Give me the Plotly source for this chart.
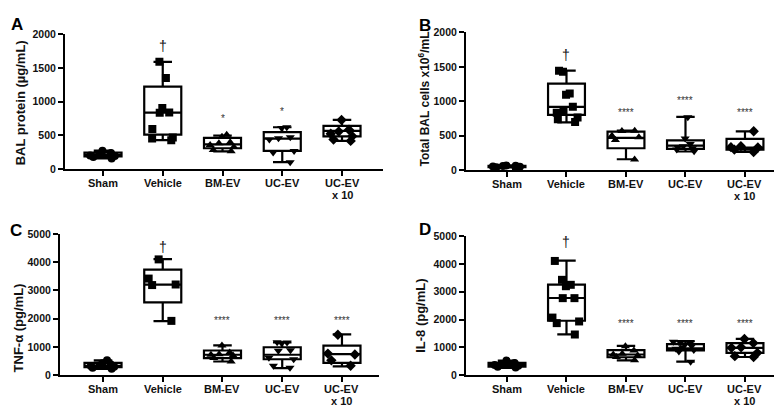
import plotly.graph_objects as go

# ---------------- data ----------------
groups = ["Sham", "Vehicle", "BM-EV", "UC-EV", "UC-EV x 10"]
group_line1 = ["Sham", "Vehicle", "BM-EV", "UC-EV", "UC-EV"]
group_line2 = ["", "", "", "", "x 10"]

# Panel A: BAL protein (ug/mL)
A_sham = [275, 240, 215, 205, 195, 180, 160]
A_vehicle = [1590, 1350, 905, 840, 835, 595, 470, 455, 430]
A_bm = [510, 480, 400, 385, 360, 330, 285, 265]
A_uc = [620, 610, 475, 460, 440, 270, 250, 105]
A_uc10 = [730, 585, 560, 525, 490, 440, 420]
A_q1 = [190, 512, 311, 273, 488]
A_med = [210, 837, 368, 455, 569]
A_q3 = [245, 1222, 464, 550, 641]
A_lo = [160, 430, 265, 105, 420]
A_hi = [275, 1590, 500, 622, 732]
A_sig = ["", "†", "*", "*", ""]
A_sig_y = [0, 1818, 756, 861, 0]

# Panel B: Total BAL cells x10^6/mL
B_sham = [70, 65, 60, 55, 50, 45, 40]
B_vehicle = [1445, 1430, 1115, 1095, 920, 860, 835, 765, 740, 700]
B_bm = [575, 570, 500, 480, 440, 155]
B_uc = [770, 460, 380, 350, 335, 320, 300, 275]
B_uc10 = [565, 350, 335, 330, 300, 265]
B_q1 = [45, 803, 319, 310, 300]
B_med = [55, 920, 470, 357, 330]
B_q3 = [65, 1258, 560, 435, 455]
B_lo = [40, 695, 160, 272, 265]
B_hi = [70, 1446, 577, 775, 565]
B_sig = ["", "†", "****", "****", "****"]
B_sig_y = [0, 1667, 836, 1009, 836]

# Panel C: TNF-alpha (pg/mL)
C_sham = [520, 420, 380, 340, 320, 290, 260, 220]
C_vehicle = [4100, 3420, 3210, 3190, 1920]
C_bm = [1050, 800, 740, 720, 690, 600, 480]
C_uc = [1160, 1150, 1130, 880, 860, 610, 560, 330, 260]
C_uc10 = [1430, 760, 730, 520, 330]
C_q1 = [280, 2574, 600, 560, 430]
C_med = [330, 3203, 720, 720, 740]
C_q3 = [430, 3741, 870, 985, 1040]
C_lo = [220, 1910, 480, 245, 310]
C_hi = [520, 4107, 1050, 1160, 1440]
C_sig = ["", "†", "****", "****", "****"]
C_sig_y = [0, 4542, 1945, 1945, 1945]

# Panel D: IL-8 (pg/mL)
D_sham = [520, 430, 390, 360, 330, 300, 270]
D_vehicle = [4110, 3430, 3250, 3200, 2770, 2770, 2070, 1930, 1870, 1460]
D_bm = [1040, 880, 770, 740, 700, 650, 530]
D_uc = [1200, 1180, 1150, 1100, 1050, 1000, 950, 900, 850, 480]
D_uc10 = [1300, 1150, 1000, 980, 800, 680, 650]
D_q1 = [300, 1955, 640, 890, 800]
D_med = [360, 2775, 740, 960, 980]
D_q3 = [440, 3255, 900, 1110, 1150]
D_lo = [260, 1464, 530, 480, 650]
D_hi = [520, 4122, 1050, 1220, 1300]
D_sig = ["", "†", "****", "****", "****"]
D_sig_y = [0, 4800, 1873, 1873, 1873]

# ---------------- layout helpers ----------------
W, H = 782, 407
def px(x):
    return x / W
def py(y):
    return 1 - y / H

symbols = ["circle", "square", "triangle-up", "triangle-down", "diamond"]
FONT = "Liberation Sans, Arial, sans-serif"

panels = [
    dict(letter="A", title="BAL protein (µg/mL)", tsize=13,
         values=[A_sham, A_vehicle, A_bm, A_uc, A_uc10],
         q1=A_q1, med=A_med, q3=A_q3, lo=A_lo, hi=A_hi, sig=A_sig, sig_y=A_sig_y,
         ymax=2000, dtick=500, xd=(57, 375), yd=(160, 20.7), xr=(-0.636, 4.686),
         letter_pos=(9, 11), title_pos=(12, 92)),
    dict(letter="B", title="Total BAL cells x10<sup>6</sup>/mL", tsize=12,
         values=[B_sham, B_vehicle, B_bm, B_uc, B_uc10],
         q1=B_q1, med=B_med, q3=B_q3, lo=B_lo, hi=B_hi, sig=B_sig, sig_y=B_sig_y,
         ymax=2000, dtick=500, xd=(458, 780), yd=(161, 19), xr=(-0.689, 4.723),
         letter_pos=(417, 12), title_pos=(416, 88)),
    dict(letter="C", title="TNF-α (pg/mL)", tsize=13,
         values=[C_sham, C_vehicle, C_bm, C_uc, C_uc10],
         q1=C_q1, med=C_med, q3=C_q3, lo=C_lo, hi=C_hi, sig=C_sig, sig_y=C_sig_y,
         ymax=5000, dtick=1000, xd=(52, 371), yd=(372, 226.7), xr=(-0.72, 4.62),
         letter_pos=(8, 223), title_pos=(10, 324)),
    dict(letter="D", title="IL-8 (pg/mL)", tsize=13,
         values=[D_sham, D_vehicle, D_bm, D_uc, D_uc10],
         q1=D_q1, med=D_med, q3=D_q3, lo=D_lo, hi=D_hi, sig=D_sig, sig_y=D_sig_y,
         ymax=5000, dtick=1000, xd=(458, 780), yd=(372, 229), xr=(-0.689, 4.723),
         letter_pos=(417, 222), title_pos=(413, 311)),
]

fig = go.Figure()
annotations = []
layout_axes = {}

for pi, p in enumerate(panels):
    n = "" if pi == 0 else str(pi + 1)
    xa, ya = "x" + n, "y" + n
    for gi, g in enumerate(groups):
        fig.add_trace(go.Box(
            x=[g], q1=[p["q1"][gi]], median=[p["med"][gi]], q3=[p["q3"][gi]],
            lowerfence=[p["lo"][gi]], upperfence=[p["hi"][gi]],
            width=0.62, whiskerwidth=0.5, boxpoints=False,
            line=dict(color="black", width=2.2), fillcolor="white",
            xaxis=xa, yaxis=ya, showlegend=False, hoverinfo="skip"))
        vals = p["values"][gi]
        fig.add_trace(go.Box(
            x=[g] * len(vals), y=vals, boxpoints="all", jitter=0.9, pointpos=0,
            marker=dict(symbol=symbols[gi], size=8, color="black"),
            line=dict(color="rgba(0,0,0,0)", width=0), fillcolor="rgba(0,0,0,0)",
            width=0.62, whiskerwidth=0,
            xaxis=xa, yaxis=ya, showlegend=False, hoverinfo="skip"))
        if p["sig"][gi]:
            dag = p["sig"][gi] == "†"
            annotations.append(dict(
                x=g, y=p["sig_y"][gi], xref=xa, yref=ya, text=p["sig"][gi],
                showarrow=False, yanchor="middle",
                font=dict(family=FONT, size=14 if dag else 10,
                          color="#111" if dag else "#333")))
        # category labels (two-line labels drawn as separate lines)
        base = p["yd"][0]
        annotations.append(dict(
            x=g, y=py(base + 14), xref=xa, yref="paper", text="<b>" + group_line1[gi] + "</b>",
            showarrow=False, xanchor="center", yanchor="middle",
            font=dict(family=FONT, size=11, color="#111")))
        if group_line2[gi]:
            annotations.append(dict(
                x=g, y=py(base + 27), xref=xa, yref="paper", text="<b>" + group_line2[gi] + "</b>",
                showarrow=False, xanchor="center", yanchor="middle",
                font=dict(family=FONT, size=11, color="#111")))
    layout_axes["xaxis" + n] = dict(
        domain=[px(p["xd"][0]), px(p["xd"][1])], anchor=ya,
        type="category", categoryorder="array", categoryarray=groups,
        range=list(p["xr"]), showline=True, linecolor="black", linewidth=2,
        ticks="outside", ticklen=5, tickwidth=2, tickcolor="black",
        showgrid=False, zeroline=False, showticklabels=False)
    layout_axes["yaxis" + n] = dict(
        domain=[py(p["yd"][0]), py(p["yd"][1])], anchor=xa,
        range=[0, p["ymax"]], tick0=0, dtick=p["dtick"],
        showline=True, linecolor="black", linewidth=2,
        ticks="outside", ticklen=5, tickwidth=2, tickcolor="black",
        showgrid=False, zeroline=False,
        tickfont=dict(family=FONT, size=10.5, color="#111", weight="bold"))
    annotations.append(dict(
        x=px(p["letter_pos"][0]), y=py(p["letter_pos"][1]), xref="paper", yref="paper",
        text="<b>" + p["letter"] + "</b>", showarrow=False,
        xanchor="center", yanchor="middle",
        font=dict(family=FONT, size=17, color="black")))
    annotations.append(dict(
        x=px(p["title_pos"][0]), y=py(p["title_pos"][1]), xref="paper", yref="paper",
        text="<b>" + p["title"] + "</b>", showarrow=False, textangle=-90,
        xanchor="center", yanchor="middle",
        font=dict(family=FONT, size=p["tsize"], color="#111")))

fig.update_layout(
    width=W, height=H, margin=dict(l=0, r=0, t=0, b=0),
    paper_bgcolor="white", plot_bgcolor="white",
    boxmode="overlay", showlegend=False,
    annotations=annotations, **layout_axes)

fig.write_html("out.html")
